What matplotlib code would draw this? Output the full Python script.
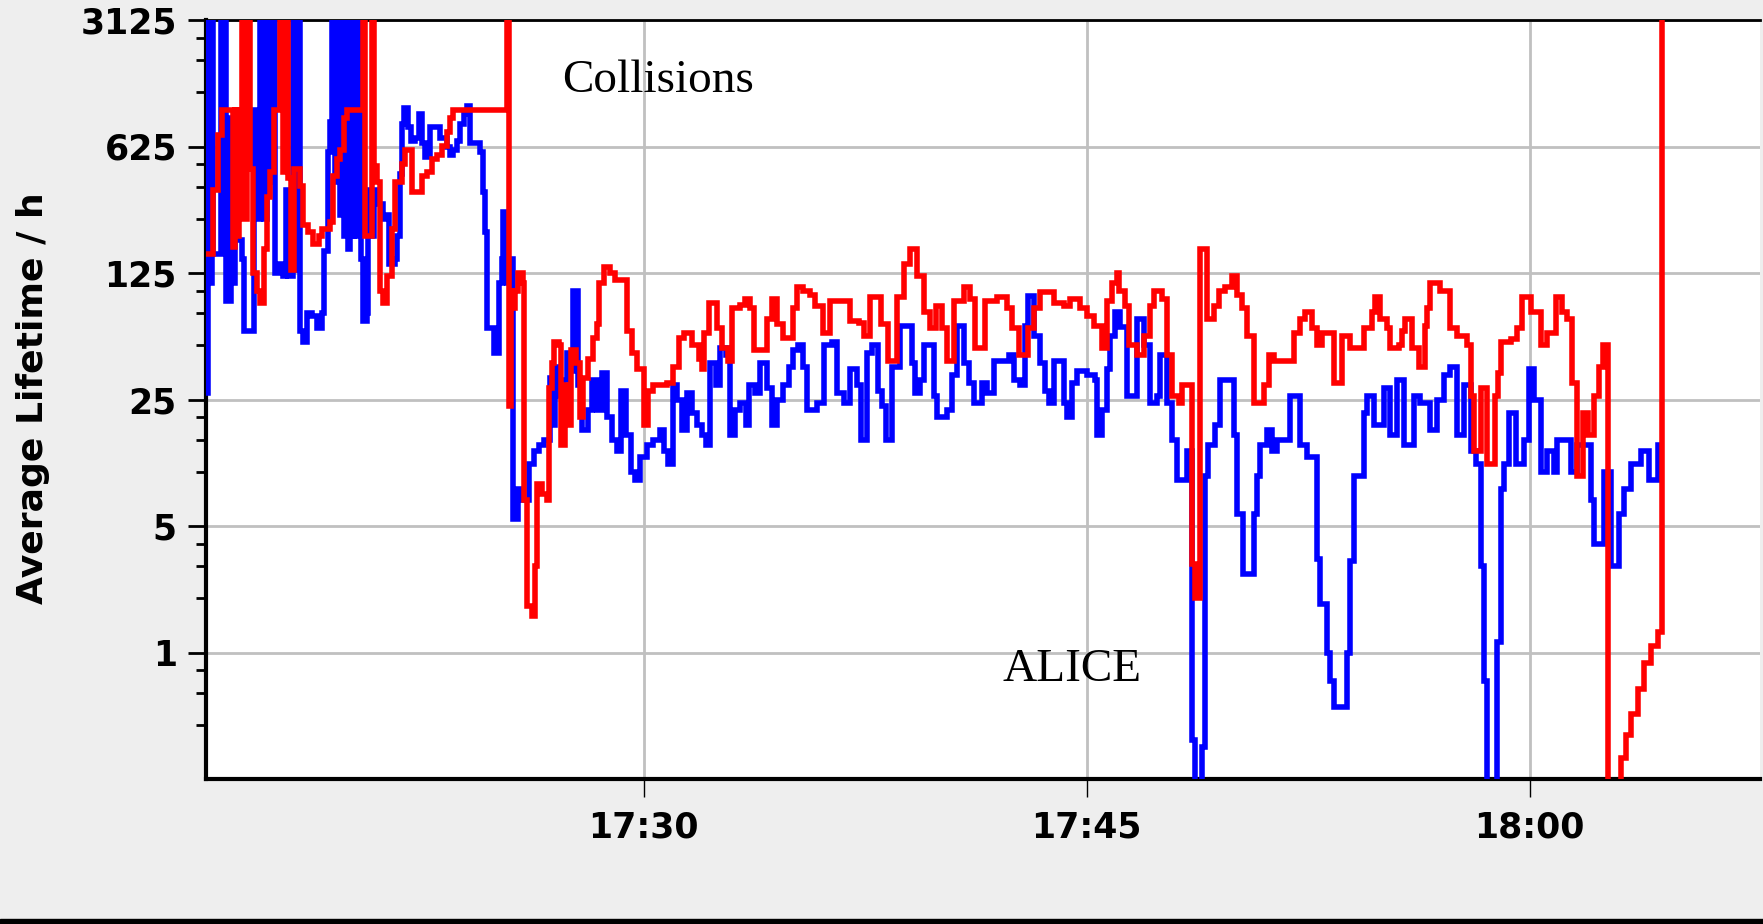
import matplotlib
matplotlib.use("Agg")
import matplotlib.pyplot as plt
from matplotlib.patches import Rectangle
from matplotlib.ticker import FixedLocator, NullFormatter

# time in minutes after 17:00, lifetime in hours (5000 = off the top, 0.1 = off the bottom)
blue_t = [15.23, 15.26, 15.32, 15.38, 15.43, 15.68, 15.75, 15.79, 15.86, 16.02,
          16.11, 16.17, 16.39, 16.48, 16.79, 16.90, 17.01, 17.13, 17.24, 17.35,
          17.44, 17.52, 17.69, 17.80, 17.89, 17.97, 18.14, 18.26, 18.30, 18.35,
          18.48, 18.59, 18.76, 18.93, 19.10, 19.18, 19.31, 19.38, 19.46, 19.55,
          19.61, 19.72, 19.78, 19.86, 19.92, 19.98, 20.06, 20.14, 20.20, 20.27,
          20.37, 20.42, 20.49, 20.63, 20.68, 20.76, 20.87, 21.02, 21.19, 21.27,
          21.36, 21.59, 21.66, 21.75, 21.81, 21.89, 22.03, 22.12, 22.26, 22.38,
          22.49, 22.60, 22.77, 23.11, 23.33, 23.45, 23.56, 23.67, 23.79, 23.90,
          24.01, 24.13, 24.46, 24.56, 24.63, 24.71, 24.92, 25.09, 25.20, 25.25,
          25.37, 25.54, 25.59, 25.76, 25.93, 26.13, 26.27, 26.44, 26.61, 26.83,
          26.92, 27.00, 27.17, 27.28, 27.40, 27.51, 27.60, 27.79, 27.91, 28.10,
          28.25, 28.41, 28.58, 28.75, 28.92, 29.09, 29.23, 29.41, 29.57, 29.71,
          29.88, 30.11, 30.33, 30.56, 30.70, 30.84, 31.01, 31.12, 31.29, 31.46,
          31.63, 31.80, 31.97, 32.12, 32.25, 32.46, 32.59, 32.79, 32.93, 33.10,
          33.27, 33.47, 33.55, 33.78, 33.95, 34.17, 34.34, 34.51, 34.71, 34.91,
          35.05, 35.22, 35.41, 35.53, 35.86, 36.09, 36.37, 36.56, 36.77, 36.99,
          37.24, 37.35, 37.56, 37.73, 37.92, 38.07, 38.21, 38.40, 38.69, 39.08,
          39.20, 39.36, 39.50, 39.82, 39.93, 40.27, 40.44, 40.61, 40.86, 41.00,
          41.17, 41.45, 41.62, 41.85, 42.36, 42.53, 42.75, 42.92, 43.03, 43.20,
          43.43, 43.60, 43.71, 43.88, 44.05, 44.22, 44.33, 44.50, 44.67, 45.01,
          45.29, 45.35, 45.52, 45.69, 45.80, 45.97, 46.14, 46.36, 46.70, 46.93,
          47.15, 47.38, 47.49, 47.72, 47.89, 48.06, 48.40, 48.56, 48.68, 48.90,
          49.02, 49.10, 49.36, 49.52, 49.98, 50.09, 50.31, 50.68, 50.77, 50.88,
          51.11, 51.27, 51.44, 51.90, 52.23, 52.46, 52.80, 52.91, 53.14, 53.25,
          53.36, 53.81, 53.93, 54.04, 54.38, 54.49, 54.72, 55.06, 55.28, 55.51,
          55.73, 56.07, 56.30, 56.64, 56.87, 57.09, 57.32, 57.54, 57.77, 58.00,
          58.17, 58.34, 58.45, 58.56, 58.90, 59.02, 59.13, 59.30, 59.53, 59.81,
          59.98, 60.15, 60.37, 60.60, 60.83, 60.94, 61.39, 61.62, 62.07, 62.19,
          62.53, 62.75, 63.03, 63.20, 63.43, 63.77, 64.05, 64.34, 64.45]
blue_v = [27, 5000, 110, 5000, 160, 5000, 170, 5000, 88, 900,
          110, 190, 150, 60, 1000, 250, 5000, 250, 5000, 400,
          5000, 125, 140, 120, 360, 120, 5000, 130, 5000, 60,
          52, 75, 72, 62, 75, 165, 580, 850, 5000, 400,
          5000, 260, 5000, 200, 5000, 170, 5000, 200, 5000, 200,
          5000, 150, 68, 75, 360, 200, 360, 300, 250, 260,
          140, 150, 200, 440, 830, 1015, 800, 670, 700, 950,
          650, 550, 800, 700, 620, 560, 600, 670, 830, 950,
          1050, 650, 580, 350, 210, 62, 45, 110, 150, 270,
          110, 150, 5.5, 8, 7, 11, 13, 14, 15, 33,
          18, 38, 26, 32, 45, 36, 100, 30, 17, 22,
          32, 22, 35, 20, 15, 13, 28, 16, 10, 9,
          12, 14, 15, 17, 13, 11, 30, 25, 17, 27,
          21, 18, 16, 14, 40, 30, 48, 44, 16, 22,
          24, 18, 30, 27, 40, 29, 18, 25, 30, 38,
          47, 50, 38, 22, 24, 50, 52, 27, 24, 37,
          30, 15, 45, 50, 28, 23, 15, 38, 64, 40,
          27, 32, 50, 26, 20, 22, 34, 64, 40, 31,
          24, 31, 27, 41, 44, 32, 30, 64, 93, 56,
          40, 28, 24, 41, 41, 24, 20, 31, 36, 34,
          32, 16, 22, 37, 56, 76, 63, 26, 70, 50,
          24, 26, 44, 24, 15, 9, 13, 0.33, 0.1, 0.3,
          9.5, 14, 18, 32, 16, 5.8, 2.7, 5.8, 9.5, 14,
          17, 13, 15, 26, 14, 12, 3.3, 1.85, 1.0, 0.7,
          0.5, 1.0, 3.2, 9.4, 21, 26, 18, 29, 16, 32,
          14, 26, 24, 17, 25, 34, 38, 16, 30, 13,
          11, 3, 0.7, 0.1, 1.15, 8, 11, 21, 11, 15,
          37, 25, 10, 13, 10, 15, 10, 14, 7, 4,
          10, 3, 5.8, 8, 11, 13, 9, 14, 14]

red_t = [15.23, 15.43, 15.60, 15.72, 16.11, 16.17, 16.25, 16.31, 16.39, 16.47,
         16.56, 16.68, 16.77, 16.92, 17.01, 17.13, 17.24, 17.35, 17.47, 17.69,
         17.80, 17.89, 17.97, 18.05, 18.17, 18.37, 18.48, 18.65, 18.82, 19.00,
         19.10, 19.38, 19.47, 19.61, 19.72, 19.84, 19.95, 20.48, 20.55, 20.79,
         20.88, 20.96, 21.08, 21.17, 21.30, 21.47, 21.59, 21.81, 21.92, 22.14,
         22.37, 22.49, 22.66, 22.83, 23.00, 23.17, 23.33, 23.45, 23.56, 25.37,
         25.44, 25.50, 25.54, 25.65, 25.76, 25.91, 25.96, 26.04, 26.21, 26.33,
         26.38, 26.55, 26.72, 26.78, 26.89, 26.97, 27.12, 27.21, 27.34, 27.45,
         27.53, 27.71, 27.85, 27.96, 28.13, 28.30, 28.41, 28.50, 28.66, 28.87,
         29.03, 29.43, 29.60, 29.77, 30.02, 30.16, 30.33, 30.79, 31.01, 31.18,
         31.35, 31.63, 31.86, 31.97, 32.05, 32.20, 32.48, 32.65, 32.87, 32.99,
         33.27, 33.44, 33.61, 33.72, 34.17, 34.34, 34.53, 34.71, 35.07, 35.19,
         35.41, 35.64, 35.81, 36.07, 36.32, 37.00, 37.28, 37.45, 37.67, 38.04,
         38.26, 38.57, 38.80, 39.03, 39.25, 39.50, 39.70, 39.91, 40.10, 40.27,
         40.52, 40.83, 41.06, 41.23, 41.57, 41.96, 42.30, 42.47, 42.70, 43.03,
         43.20, 43.43, 43.88, 44.22, 44.45, 44.78, 45.01, 45.24, 45.52, 45.69,
         45.86, 46.03, 46.08, 46.31, 46.45, 46.70, 46.93, 47.15, 47.27, 47.55,
         47.72, 47.89, 48.11, 48.23, 48.56, 48.68, 48.85, 49.07, 49.30, 49.47,
         49.69, 49.92, 50.09, 50.26, 50.43, 50.68, 51.00, 51.16, 51.33, 52.01,
         52.23, 52.40, 52.63, 52.80, 52.97, 53.36, 53.65, 53.93, 54.38, 54.66,
         54.77, 54.94, 55.17, 55.28, 55.56, 55.68, 55.79, 56.02, 56.24, 56.44,
         56.53, 56.64, 56.98, 57.32, 57.54, 57.88, 58.02, 58.13, 58.34, 58.56,
         58.81, 58.93, 59.02, 59.36, 59.58, 59.75, 60.03, 60.37, 60.60, 60.88,
         61.11, 61.28, 61.42, 61.59, 61.79, 61.96, 62.19, 62.36, 62.50, 62.64,
         63.09, 63.26, 63.43, 63.66, 63.88, 64.11, 64.34, 64.47]
red_v = [160, 360, 720, 1000, 175, 1000, 200, 1000, 5000, 250,
         5000, 470, 125, 100, 85, 170, 330, 450, 1000, 5000,
         450, 5000, 420, 130, 470, 380, 230, 210, 180, 200,
         220, 240, 430, 530, 600, 900, 1000, 5000, 200, 5000,
         490, 400, 100, 85, 120, 220, 400, 500, 600, 350,
         350, 430, 450, 530, 560, 630, 750, 900, 1000, 5000,
         23, 100, 80, 100, 125, 110, 7, 1.8, 1.6, 3,
         8.5, 7.5, 7, 29, 40, 52, 50, 14, 30, 18,
         47, 40, 20, 33, 42, 55, 65, 110, 135, 125,
         115, 60, 45, 37, 18, 28, 30, 31, 38, 55,
         58, 50, 42, 37, 58, 85, 62, 48, 41, 80,
         83, 90, 80, 47, 70, 90, 65, 55, 80, 105,
         100, 95, 82, 58, 88, 68, 66, 56, 92, 65,
         41, 92, 140, 170, 120, 76, 62, 82, 62, 41,
         88, 105, 90, 48, 88, 92, 80, 62, 44, 62,
         80, 98, 85, 82, 90, 80, 72, 64, 48, 88,
         110, 125, 100, 82, 50, 44, 56, 82, 100, 90,
         44, 26, 24, 30, 3.1, 2.0, 170, 70, 82, 100,
         105, 120, 95, 80, 56, 24, 30, 44, 41, 58,
         70, 76, 62, 50, 58, 31, 56, 48, 62, 76,
         92, 70, 62, 48, 50, 60, 70, 48, 38, 64,
         80, 110, 100, 62, 56, 50, 26, 13, 29, 11,
         26, 35, 52, 54, 62, 92, 76, 50, 58, 92,
         76, 70, 31, 9.5, 21, 16, 26, 38, 50, 0.1,
         0.26, 0.35, 0.46, 0.63, 0.87, 1.09, 1.29, 5000]

x_ticks = [30, 45, 60]
x_labels = ["17:30", "17:45", "18:00"]
y_ticks = [1, 5, 25, 125, 625, 3125]
y_labels = ["1", "5", "25", "125", "625", "3125"]
y_minor = [0.4, 0.6, 0.8, 2, 3, 4, 10, 15, 20, 50, 75, 100,
           250, 375, 500, 1250, 1875, 2500]

W, H = 1763, 924
fig = plt.figure(figsize=(W / 100, H / 100), dpi=100, facecolor="#eeeeee")
ax = fig.add_axes([206 / W, 1 - 779 / H, (1760 - 206) / W, (779 - 20) / H])
ax.set_facecolor("white")

ax.plot(blue_t, blue_v, color="#0000ff", lw=4, drawstyle="steps-post",
        solid_joinstyle="miter", zorder=3)
ax.plot(red_t, red_v, color="#ff0000", lw=4, drawstyle="steps-post",
        solid_joinstyle="miter", zorder=4)

ax.set_yscale("log", base=5)
ax.set_ylim(0.2, 3125)
ax.set_xlim(15.18, 67.8)

ax.set_xticks(x_ticks)
ax.set_xticklabels(x_labels)
ax.set_yticks(y_ticks)
ax.set_yticklabels(y_labels)
ax.yaxis.set_minor_locator(FixedLocator(y_minor))
ax.yaxis.set_minor_formatter(NullFormatter())
ax.xaxis.set_minor_locator(FixedLocator([]))

ax.grid(True, which="major", color="#c0c0c0", lw=2, zorder=1)
ax.set_axisbelow(True)

for lab in ax.get_xticklabels() + ax.get_yticklabels():
    lab.set_fontfamily("DejaVu Sans")
    lab.set_fontweight("bold")
    lab.set_fontsize(25)

ax.tick_params(axis="y", which="major", length=13, width=2, pad=8, color="black")
ax.tick_params(axis="y", which="minor", length=7, width=2, color="black")
ax.tick_params(axis="x", which="major", length=13, width=1, pad=10, color="black")

for side in ["left", "bottom"]:
    ax.spines[side].set_linewidth(3)
ax.spines["top"].set_linewidth(2)
ax.spines["right"].set_visible(False)

fig.text(33 / W, 1 - 398 / H, "Average Lifetime / h", rotation=90,
         ha="center", va="center", fontfamily="DejaVu Sans", fontweight="bold",
         fontsize=26)

ax.text(0.291, 0.905, "Collisions", transform=ax.transAxes, ha="center",
        va="baseline", fontfamily="Liberation Serif", fontsize=34)
ax.text(0.557, 0.129, "ALICE", transform=ax.transAxes, ha="center",
        va="baseline", fontfamily="Liberation Serif", fontsize=34)

fig.add_artist(Rectangle((0, 0), 1, 5 / H, transform=fig.transFigure,
                         color="black"))

fig.savefig("out.png", dpi=100, facecolor=fig.get_facecolor())
